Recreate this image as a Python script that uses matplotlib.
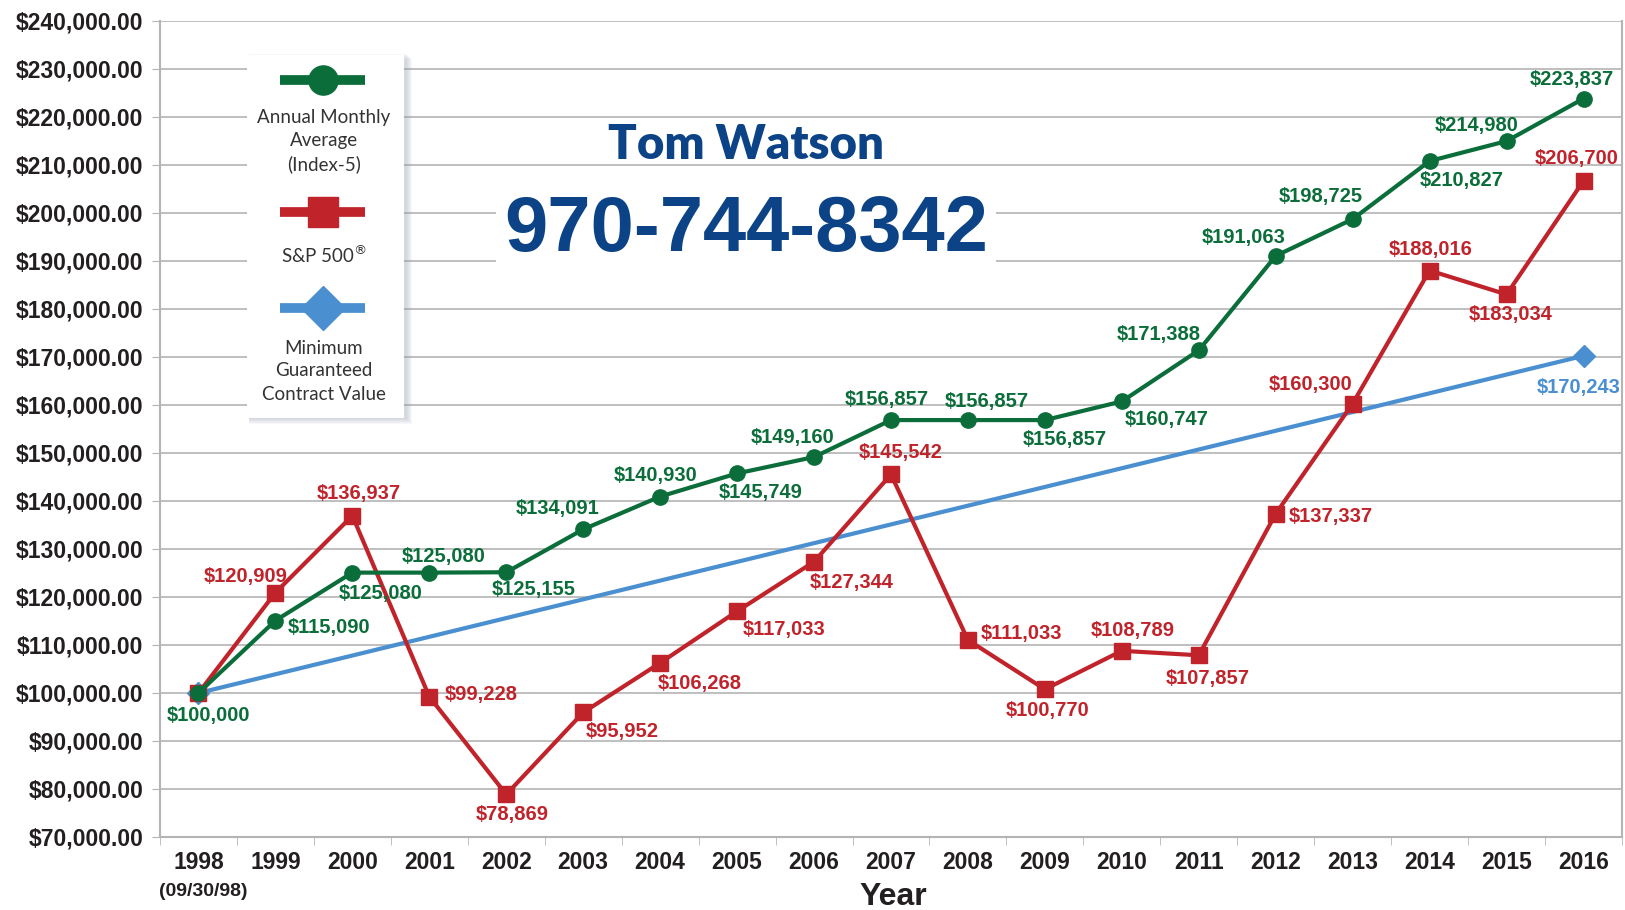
import numpy as np
import matplotlib
matplotlib.use("Agg")
import matplotlib.pyplot as plt
from matplotlib.patches import Rectangle
from matplotlib.ticker import FuncFormatter

# data
years = ["1998", "1999", "2000", "2001", "2002", "2003", "2004", "2005", "2006", "2007",
         "2008", "2009", "2010", "2011", "2012", "2013", "2014", "2015", "2016"]
index5 = [100000, 115090, 125080, 125080, 125155, 134091, 140930, 145749, 149160, 156857,
          156857, 156857, 160747, 171388, 191063, 198725, 210827, 214980, 223837]
sp500 = [100000, 120909, 136937, 99228, 78869, 95952, 106268, 117033, 127344, 145542,
         111033, 100770, 108789, 107857, 137337, 160300, 188016, 183034, 206700]
min_guar = [100000, 170243]  # first and last year only

# label offsets (screen px, +y = down) -- just placement
g_off = [(10, 22), (52, 7), (27, 20), (14, -16), (26, 17), (-25, -20), (-4, -20), (23, 18),
         (-21, -19), (-4, -20), (18, -18), (19, 19), (43, 17), (-39, -15), (-31, -18),
         (-31, -22), (31, 19), (-29, -15), (-11, -18)]
r_off = [None, (-29, -16), (6, -21), (50, -2), (6, 19), (38, 18), (38, 20), (45, 18), (36, 20),
         (9, -21), (52, -6), (3, 20), (10, -20), (9, 22), (53, 3), (-41, -18), (1, -20),
         (4, 19), (-7, -22)]
b_off = [None, (-5, 31)]

GREEN = "#0b6e3a"
RED = "#c1232b"
BLUE = "#4a8fd0"
NAVY = "#0b4386"
COND = ["Liberation Sans", "DejaVu Sans"]

fig = plt.figure(figsize=(16.25, 9.1), dpi=100)
ax = fig.add_axes([160 / 1625, 1 - 837 / 910, 1462 / 1625, 816 / 910])

x = np.arange(len(years))
ax.plot([x[0], x[-1]], min_guar, color=BLUE, lw=3.0, marker="D", ms=11, zorder=3)
ax.plot(x, sp500, color=RED, lw=3.0, marker="s", ms=11, zorder=4)
ax.plot(x, index5, color=GREEN, lw=3.0, marker="o", ms=11, zorder=5)

s = 1.036


def lab(xi, v, off, col):
    ax.annotate("${:,}".format(v), (xi, v), xytext=(off[0] * s, -off[1] * s),
                textcoords="offset pixels", ha="center", va="center", color=col,
                fontsize=14.5, fontweight="bold", family=COND, zorder=6)


for i, v in enumerate(index5):
    lab(i, v, g_off[i], GREEN)
for i, v in enumerate(sp500):
    if r_off[i]:
        lab(i, v, r_off[i], RED)
lab(x[-1], min_guar[1], b_off[1], BLUE)

ax.set_xlim(-0.5, len(years) - 0.5)
ax.set_ylim(70000, 240000)
ax.set_yticks(np.arange(70000, 240001, 10000))
ax.yaxis.set_major_formatter(FuncFormatter(lambda v, p: "${:,.2f}".format(v)))
ax.grid(axis="y", color="#b4b4b4", lw=1.2)
ax.set_axisbelow(True)
for sp in ["left", "bottom", "right"]:
    ax.spines[sp].set_color("#b4b4b4")
    ax.spines[sp].set_linewidth(1.5)
ax.spines["top"].set_visible(False)
ax.tick_params(axis="y", length=6, color="#b4b4b4", pad=6)
ax.set_xticks(x)
ax.set_xticklabels(years)
ax.set_xticks(np.arange(-0.5, len(years)), minor=True)
ax.tick_params(axis="x", which="major", length=0, pad=10)
ax.tick_params(axis="x", which="minor", length=6, color="#b4b4b4")
for t in ax.get_yticklabels() + ax.get_xticklabels():
    t.set_family(COND)
    t.set_fontweight("bold")
    t.set_fontsize(16.5)
    t.set_color("#231f20")

ax.annotate("(09/30/98)", (0, 0), xycoords=("data", "axes fraction"), xytext=(5, -54),
            textcoords="offset pixels", ha="center", va="center", fontsize=14,
            fontweight="bold", family=COND, color="#231f20")
ax.annotate("Year", (0.5, 0), xycoords="axes fraction", xytext=(2, -60),
            textcoords="offset pixels", ha="center", va="center", fontsize=23,
            fontweight="bold", family=COND, color="#231f20")

# name and phone
fig.text(746 / 1625, 1 - 145 / 910, "Tom Watson", ha="center", va="center", fontsize=34,
         fontweight="heavy", family=["Lato", "DejaVu Sans"], color=NAVY)
fig.text(746 / 1625, 1 - 230 / 910, "970-744-8342", ha="center", va="center", fontsize=56,
         fontweight="bold", family=COND, color=NAVY,
         bbox=dict(facecolor="white", edgecolor="none", pad=6))

# legend box with soft drop shadow
lx, ly, lw_, lh = 247, 55, 157, 363
for k in range(6, 0, -1):
    fig.patches.append(Rectangle(((lx + 2) / 1625, 1 - (ly + lh + k) / 910),
                                 (lw_ + k) / 1625, (lh + 2) / 910,
                                 transform=fig.transFigure, color="#9aa3b5", alpha=0.08,
                                 lw=0, zorder=8))
lax = fig.add_axes([lx / 1625, 1 - (ly + lh) / 910, lw_ / 1625, lh / 910], zorder=10)
lax.set_xlim(0, lw_)
lax.set_ylim(lh, 0)
lax.axis("off")
lax.add_patch(Rectangle((0, 0), lw_, lh, color="white"))
items = [(GREEN, "o", 14, 25, ["Annual Monthly", "Average", "(Index-5)"], 63),
         (RED, "s", 14, 157, ["S&P 500$^{®}$"], 200),
         (BLUE, "D", 15, 253, ["Minimum", "Guaranteed", "Contract Value"], 293)]
for col, mk, ms, yl, txt, yt in items:
    lax.plot([33, 118], [yl, yl], color=col, lw=7, solid_capstyle="butt")
    lax.plot([75.5], [yl], color=col, marker=mk, ms=ms * 1.5, mec=col)
    for j, t in enumerate(txt):
        lax.text(77, yt + j * 23, t, ha="center", va="center", fontsize=13.5,
                 color="#333333", family=["Lato", "DejaVu Sans"])

fig.savefig("out.png", dpi=100, facecolor="white")
